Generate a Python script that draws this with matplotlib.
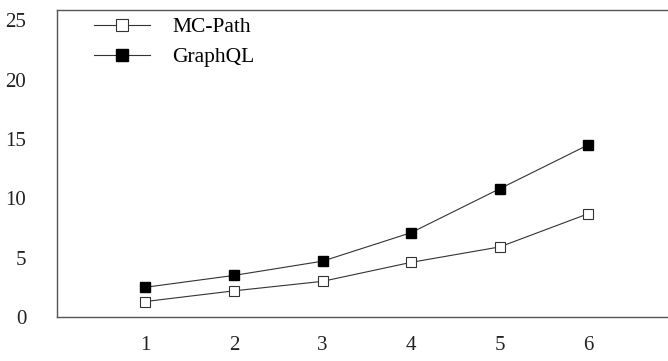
import matplotlib.pyplot as plt

x = [1, 2, 3, 4, 5, 6]
mc_path = [1.3, 2.2, 3.0, 4.6, 5.9, 8.7]
graphql = [2.5, 3.5, 4.7, 7.1, 10.8, 14.5]
yticks = [0, 5, 10, 15, 20, 25]

plt.rcParams['font.family'] = ['Liberation Serif', 'DejaVu Serif']

fig = plt.figure(figsize=(6.68, 3.61), dpi=100)
ax = fig.add_axes([0.085, 0.122, 0.915, 0.85])

ax.plot(x, mc_path, color='#333333', linewidth=0.8, marker='s', markersize=7.5,
        markerfacecolor='white', markeredgecolor='#333333', markeredgewidth=0.8,
        label='MC-Path')
ax.plot(x, graphql, color='#333333', linewidth=0.8, marker='s', markersize=7.5,
        markerfacecolor='black', markeredgecolor='black', label='GraphQL')

ax.set_xlim(0, 6.9)
ax.set_ylim(0, 25.85)
ax.set_xticks(x)
ax.set_yticks(yticks)
ax.tick_params(length=0, labelsize=15, colors='#222222')
ax.tick_params(axis='x', pad=14)
ax.tick_params(axis='y', pad=22)

ax.spines['right'].set_visible(False)
for s in ['left', 'bottom', 'top']:
    ax.spines[s].set_color('#555555')
    ax.spines[s].set_linewidth(1.0)

ax.legend(loc='upper left', bbox_to_anchor=(0.03, 1.04), frameon=False,
          fontsize=15.5, handlelength=2.6, handletextpad=1.0, labelspacing=0.45,
          markerscale=1.2)

fig.savefig('out.png', dpi=100)
